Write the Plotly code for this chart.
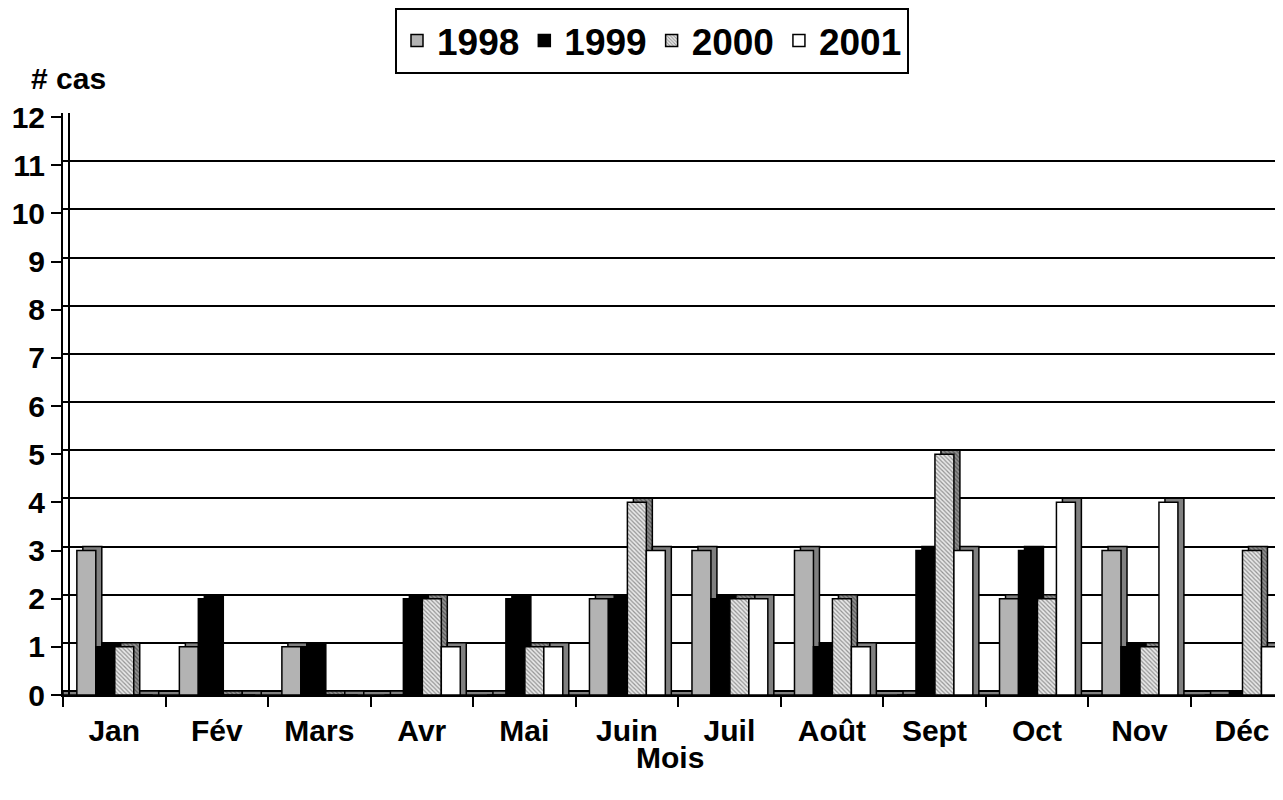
import plotly.graph_objects as go

months = ["Jan", "Fév", "Mars", "Avr", "Mai", "Juin", "Juil", "Août", "Sept", "Oct", "Nov", "Déc"]
years = ["1998", "1999", "2000", "2001"]
cases_1998 = [3, 1, 1, 0, 0, 2, 3, 3, 0, 2, 3, 0]
cases_1999 = [1, 2, 1, 2, 2, 2, 2, 1, 3, 3, 1, 0]
cases_2000 = [1, 0, 0, 2, 1, 4, 2, 2, 5, 2, 1, 3]
cases_2001 = [0, 0, 0, 1, 1, 3, 2, 1, 3, 4, 4, 1]
series = [cases_1998, cases_1999, cases_2000, cases_2001]
y_ticks = list(range(0, 13))

FONT = "Liberation Sans, Arial, sans-serif"
BAR_W = 0.185
OFFS = [-0.365, -0.18, 0.005, 0.19]
DX = 0.0585   # 3D depth, horizontal (category units)
DZ = 0.083    # 3D depth, vertical (value units)

front_style = [
    dict(color="#b3b3b3"),
    dict(color="#000000"),
    dict(color="#d8d8d8", pattern=dict(shape="\\", fgcolor="#404040", bgcolor="#e8e8e8", size=3, solidity=0.4)),
    dict(color="#ffffff"),
]
depth_style = [
    dict(color="#808080"),
    dict(color="#000000"),
    dict(color="#808080", pattern=dict(shape="\\", fgcolor="#202020", bgcolor="#909090", size=3, solidity=0.4)),
    dict(color="#808080"),
]

fig = go.Figure()
for i, (name, vals) in enumerate(zip(years, series)):
    fig.add_trace(go.Bar(
        x=months, y=[v + DZ for v in vals], base=0,
        offset=OFFS[i] + DX, width=BAR_W,
        marker=dict(**depth_style[i], line=dict(color="black", width=1.5)),
        showlegend=False, hoverinfo="skip",
    ))
    fig.add_trace(go.Bar(
        x=months, y=vals, base=0, name=name,
        offset=OFFS[i], width=BAR_W,
        marker=dict(**front_style[i], line=dict(color="black", width=1.5)),
    ))

# second y axis used only to draw the back wall (gridlines shifted by depth)
fig.add_trace(go.Scatter(x=months, y=[None] * len(months), yaxis="y2",
                         showlegend=False, hoverinfo="skip"))

fig.add_shape(type="rect", xref="paper", x0=0, x1=1, yref="y", y0=0, y1=DZ,
              fillcolor="#808080", line=dict(color="black", width=1.5), layer="between")

tickfont = dict(family=FONT, size=30, color="black", weight="bold")
fig.update_layout(
    width=1283, height=800,
    margin=dict(l=55, r=8, t=105, b=113, autoexpand=False),
    paper_bgcolor="white", plot_bgcolor="white",
    barmode="overlay",
    font=dict(family=FONT, color="black"),
    xaxis=dict(
        range=[-0.5, 11.4], tickson="boundaries", ticks="outside", ticklen=10,
        tickwidth=2, tickcolor="black", showline=True, linewidth=2, linecolor="black",
        showgrid=False, tickfont=tickfont, automargin=False, ticklabelstandoff=8,
    ),
    yaxis=dict(
        range=[0, 12 + DZ], tickvals=y_ticks, ticks="outside", ticklen=10, tickwidth=2,
        tickcolor="black", showline=True, linewidth=2, linecolor="black",
        showgrid=False, zeroline=False, tickfont=tickfont, automargin=False,
    ),
    yaxis2=dict(
        overlaying="y", range=[-DZ, 12], tickvals=y_ticks, showticklabels=False,
        ticks="", showgrid=True, gridcolor="black", gridwidth=2, zeroline=False,
        showline=True, linewidth=2, linecolor="black",
        anchor="free", position=6 / 1220, automargin=False,
    ),
    legend=dict(
        orientation="h", xref="container", yref="container",
        x=644 / 1283, xanchor="center", y=1.0, yanchor="top",
        bordercolor="black", borderwidth=2, bgcolor="white",
        font=dict(family=FONT, size=37, color="black", weight="bold"),
        traceorder="normal",
    ),
    annotations=[
        dict(text="# cas", xref="paper", yref="paper", x=(29 - 63) / 1220, y=(695 - 78) / 582,
             xanchor="left", yanchor="middle", showarrow=False,
             font=dict(family=FONT, size=30, color="black", weight="bold")),
        dict(text="Mois", xref="paper", yref="paper", x=(670 - 63) / 1220, y=(695 - 757) / 582,
             xanchor="center", yanchor="middle", showarrow=False,
             font=dict(family=FONT, size=30, color="black", weight="bold")),
    ],
)

fig.write_html("out.html")
